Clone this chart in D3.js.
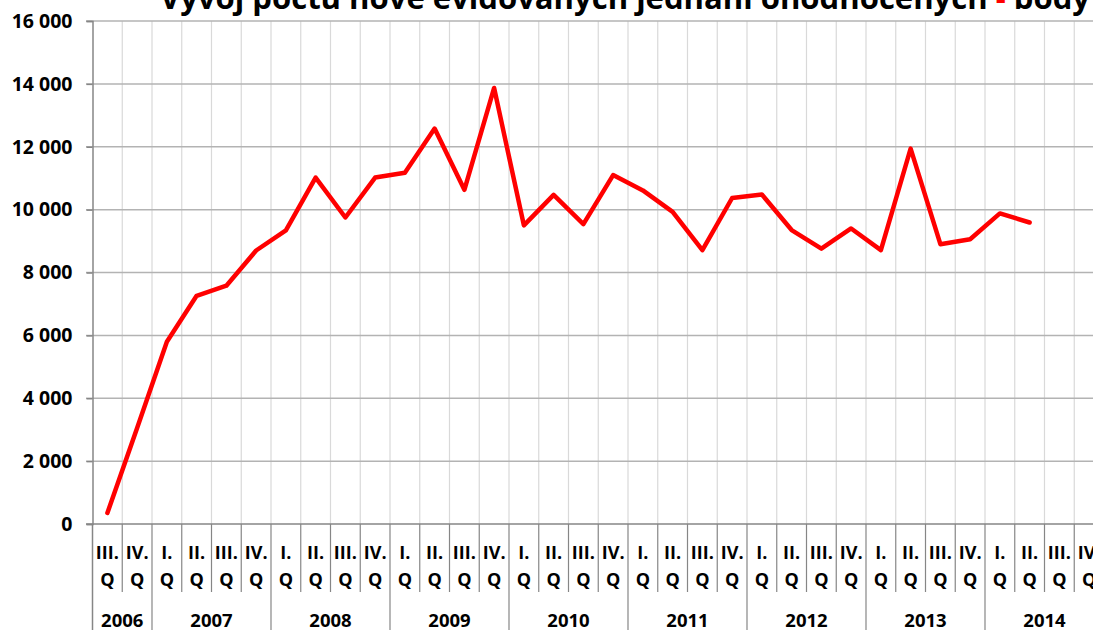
<!DOCTYPE html>
<html>
<head>
<meta charset="utf-8">
<script src="https://cdn.jsdelivr.net/npm/d3@7"></script>
<style>
  body { margin: 0; background: #fff; }
  svg { display: block; font-family: "Open Sans", Lato, sans-serif; font-weight: bold; }
</style>
</head>
<body>
<svg width="1093" height="630"></svg>
<script>
const years = ["2006", "2007", "2008", "2009", "2010", "2011", "2012", "2013", "2014"];
const quarters = [
  "III.", "IV.",
  "I.", "II.", "III.", "IV.",
  "I.", "II.", "III.", "IV.",
  "I.", "II.", "III.", "IV.",
  "I.", "II.", "III.", "IV.",
  "I.", "II.", "III.", "IV.",
  "I.", "II.", "III.", "IV.",
  "I.", "II.", "III.", "IV.",
  "I.", "II.", "III.", "IV."
];
const quarterYears = [
  "2006", "2006",
  "2007", "2007", "2007", "2007",
  "2008", "2008", "2008", "2008",
  "2009", "2009", "2009", "2009",
  "2010", "2010", "2010", "2010",
  "2011", "2011", "2011", "2011",
  "2012", "2012", "2012", "2012",
  "2013", "2013", "2013", "2013",
  "2014", "2014", "2014", "2014"
];
const counts = [
  350, 3050,
  5800, 7260, 7580, 8700,
  9340, 11020, 9750, 11020,
  11170, 12580, 10630, 13870,
  9500, 10470, 9540, 11100,
  10610, 9930, 8710, 10370,
  10480, 9350, 8760, 9400,
  8710, 11940, 8900, 9060,
  9880, 9590, null, null
];
const yTicks = [0, 2000, 4000, 6000, 8000, 10000, 12000, 14000, 16000];

const svg = d3.select("svg");
const ids = quarters.map((q, i) => i);

const x = d3.scaleBand().domain(ids).range([92.5, 1104]).padding(0);
const y = d3.scaleLinear().domain([0, 16000]).range([524, 21]);

const fmt = d3.formatLocale({ decimal: ",", thousands: " ", grouping: [3], currency: ["", ""] }).format(",");

// title, mostly above the top edge
const title = svg.append("text")
  .attr("x", 160)
  .attr("y", 9)
  .attr("font-size", 30)
  .attr("textLength", 930)
  .attr("lengthAdjust", "spacingAndGlyphs")
  .attr("fill", "#000");
title.append("tspan").text("Vývoj počtu nově evidovaných jednání ohodnocených ");
title.append("tspan").attr("fill", "#ff0000").text("-");
title.append("tspan").text(" body");

// vertical gridlines
svg.append("g")
  .selectAll("line")
  .data(ids.slice(1))
  .join("line")
  .attr("x1", d => x(d)).attr("x2", d => x(d))
  .attr("y1", y(16000)).attr("y2", y(0))
  .attr("stroke", "#d9d9d9")
  .attr("stroke-width", 1.2);

// horizontal gridlines
svg.append("g")
  .selectAll("line")
  .data(yTicks.slice(1))
  .join("line")
  .attr("x1", 86).attr("x2", 1104)
  .attr("y1", d => y(d)).attr("y2", d => y(d))
  .attr("stroke", "#b3b3b3")
  .attr("stroke-width", 1.5);

// y axis
const yAxis = svg.append("g")
  .attr("transform", "translate(92.5,0)")
  .call(d3.axisLeft(y).tickValues(yTicks).tickSize(6).tickPadding(14).tickFormat(fmt));
yAxis.select(".domain").attr("stroke", "#868686").attr("stroke-width", 1.5);
yAxis.selectAll(".tick line").attr("stroke", "#868686").attr("stroke-width", 1.5);
yAxis.selectAll(".tick text")
  .attr("font-size", 19.5).attr("font-family", "'Open Sans', sans-serif").attr("font-weight", "bold").attr("fill", "#000");

svg.append("line")
  .attr("x1", 92.5).attr("x2", 92.5)
  .attr("y1", y(0)).attr("y2", 630)
  .attr("stroke", "#868686").attr("stroke-width", 1.5);

svg.append("line")
  .attr("x1", 86).attr("x2", 1104)
  .attr("y1", y(0)).attr("y2", y(0))
  .attr("stroke", "#868686").attr("stroke-width", 1.5);

// category dividers below the axis
svg.append("g")
  .selectAll("line")
  .data(ids.slice(1))
  .join("line")
  .attr("x1", d => x(d)).attr("x2", d => x(d))
  .attr("y1", y(0))
  .attr("y2", d => quarterYears[d] !== quarterYears[d - 1] ? 630 : 592)
  .attr("stroke", "#868686")
  .attr("stroke-width", 1.2);

// quarter labels
const qLab = svg.append("g")
  .selectAll("text")
  .data(ids)
  .join("text")
  .attr("text-anchor", "middle")
  .attr("font-size", 18)
  .attr("fill", "#000");
qLab.append("tspan")
  .attr("x", d => x(d) + x.bandwidth() / 2)
  .attr("y", 559)
  .text(d => quarters[d]);
qLab.append("tspan")
  .attr("x", d => x(d) + x.bandwidth() / 2)
  .attr("y", 586)
  .text("Q");

// year labels
svg.append("g")
  .selectAll("text")
  .data(years)
  .join("text")
  .attr("x", yr => {
    const idx = ids.filter(i => quarterYears[i] === yr);
    return (x(idx[0]) + x(idx[idx.length - 1]) + x.bandwidth()) / 2;
  })
  .attr("y", 627)
  .attr("text-anchor", "middle")
  .attr("font-size", 18.5)
  .attr("fill", "#000")
  .text(yr => yr);

// line
const line = d3.line()
  .defined(d => counts[d] != null)
  .x(d => x(d) + x.bandwidth() / 2)
  .y(d => y(counts[d]));

svg.append("path")
  .datum(ids)
  .attr("d", line)
  .attr("fill", "none")
  .attr("stroke", "#ff0000")
  .attr("stroke-width", 4.5)
  .attr("stroke-linejoin", "round")
  .attr("stroke-linecap", "round");
</script>
</body>
</html>
